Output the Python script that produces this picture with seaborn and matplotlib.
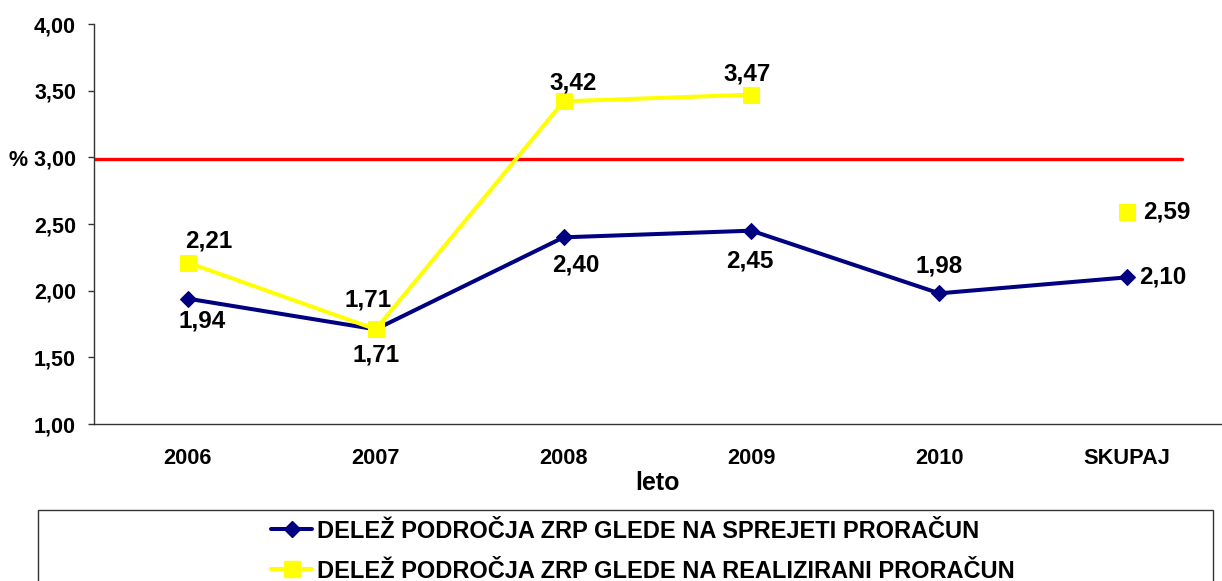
import matplotlib.pyplot as plt
import numpy as np
import pandas as pd
import seaborn as sns
from matplotlib.lines import Line2D
from matplotlib.patches import Rectangle

# data
CATEGORIES = ["2006", "2007", "2008", "2009", "2010", "SKUPAJ"]
SPREJETI = [1.94, 1.71, 2.40, 2.45, 1.98, 2.10]
REALIZIRANI = [2.21, 1.71, 3.42, 3.47, np.nan, 2.59]
THRESHOLD = 2.99
Y_TICKS = [1.0, 1.5, 2.0, 2.5, 3.0, 3.5, 4.0]
Y_TICK_LABELS = ["1,00", "1,50", "2,00", "2,50", "% 3,00", "3,50", "4,00"]
LABEL_SPREJETI = "DELEŽ PODROČJA ZRP GLEDE NA SPREJETI PRORAČUN"
LABEL_REALIZIRANI = "DELEŽ PODROČJA ZRP GLEDE NA REALIZIRANI PRORAČUN"

NAVY = "#000080"
YELLOW = "#FFFF00"
RED = "#FF0000"

# label offsets in pixels (dx, dy), dy up positive
OFF_SPREJETI = [(14, -22), (0, -26), (12, -28), (-2, -30), (0, 27), (12, 0)]
OFF_REALIZIRANI = [(21, 22), (-8, 29), (10, 18), (-4, 21), (0, 0), (16, 0)]

sns.set_style("white")
plt.rcParams["font.family"] = ["Liberation Sans", "DejaVu Sans"]
plt.rcParams["font.weight"] = "bold"
for key in ["text.color", "axes.labelcolor", "xtick.color", "ytick.color"]:
    plt.rcParams[key] = "black"

pos = np.arange(len(CATEGORIES))
df = pd.DataFrame({
    "pos": np.concatenate([pos, pos]),
    "value": SPREJETI + REALIZIRANI,
    "series": ["sprejeti"] * len(pos) + ["realizirani"] * len(pos),
    # the yellow series has a gap at 2010, so split it into two units
    "unit": [0] * len(pos) + [1, 1, 1, 1, 2, 2],
})

W, H = 1222, 581
fig = plt.figure(figsize=(W / 100, H / 100), dpi=100)
ax = fig.add_axes([94 / W, 1 - 424 / H, (1221 - 94) / W, (424 - 24) / H])

ax.axhline(THRESHOLD, xmin=0, xmax=(1182 - 94) / (1221 - 94), color=RED, lw=2.4, zorder=1)

sns.lineplot(data=df[df.series == "sprejeti"], x="pos", y="value", color=NAVY,
             lw=2.9, marker="D", markersize=8.5, markeredgecolor=NAVY,
             estimator=None, legend=False, ax=ax, zorder=2)
sns.lineplot(data=df[df.series == "realizirani"].dropna(), x="pos", y="value",
             units="unit", estimator=None, color=YELLOW, lw=2.9, marker="s",
             markersize=11, markeredgecolor=YELLOW, legend=False, ax=ax, zorder=3)

def fmt(v):
    return f"{v:.2f}".replace(".", ",")

for values, offsets in [(SPREJETI, OFF_SPREJETI), (REALIZIRANI, OFF_REALIZIRANI)]:
    for i, (v, (dx, dy)) in enumerate(zip(values, offsets)):
        if np.isnan(v):
            continue
        ha = "left" if CATEGORIES[i] == "SKUPAJ" else "center"
        ax.annotate(fmt(v), (pos[i], v), xytext=(dx * 0.72, dy * 0.72),
                    textcoords="offset points", ha=ha, va="center",
                    fontsize=17.5, fontweight="bold", zorder=5)

ax.set_xlim(-0.5, len(CATEGORIES) - 0.5)
ax.set_ylim(1.0, 4.0)
ax.set_yticks(Y_TICKS)
ax.set_yticklabels(Y_TICK_LABELS, fontsize=15.5, fontweight="bold")
ax.set_xticks(pos)
ax.set_xticklabels(CATEGORIES, fontsize=15.7, fontweight="bold")
ax.set_xticks(np.arange(-0.5, len(CATEGORIES)), minor=True)
ax.tick_params(axis="x", which="major", length=0, pad=17)
ax.tick_params(axis="x", which="minor", length=5, width=1, color="#333333", direction="out")
ax.tick_params(axis="y", length=4, width=1, color="#333333", direction="out", pad=9, left=True)
ax.set_xlabel("leto", fontsize=18, fontweight="bold", labelpad=2)
ax.set_ylabel("")
for side in ["top", "right"]:
    ax.spines[side].set_visible(False)
for side in ["left", "bottom"]:
    ax.spines[side].set_color("#333333")
    ax.spines[side].set_linewidth(1)

handles = [
    Line2D([], [], color=NAVY, lw=2.9, marker="D", markersize=8.5, markeredgecolor=NAVY),
    Line2D([], [], color=YELLOW, lw=2.9, marker="s", markersize=11, markeredgecolor=YELLOW),
]
fig.legend(handles, [LABEL_SPREJETI, LABEL_REALIZIRANI], loc="center",
           bbox_to_anchor=(643 / W, 1 - 551 / H), frameon=False,
           prop={"size": 17, "weight": "bold"}, handlelength=1.75,
           handletextpad=0.2, labelspacing=0.72, numpoints=1)
fig.patches.append(Rectangle((38 / W, -0.2), (1213 - 38) / W, 0.2 + 1 - 510 / H,
                             transform=fig.transFigure, fill=False,
                             edgecolor="#333333", lw=1))

fig.savefig("out.png", dpi=100)
